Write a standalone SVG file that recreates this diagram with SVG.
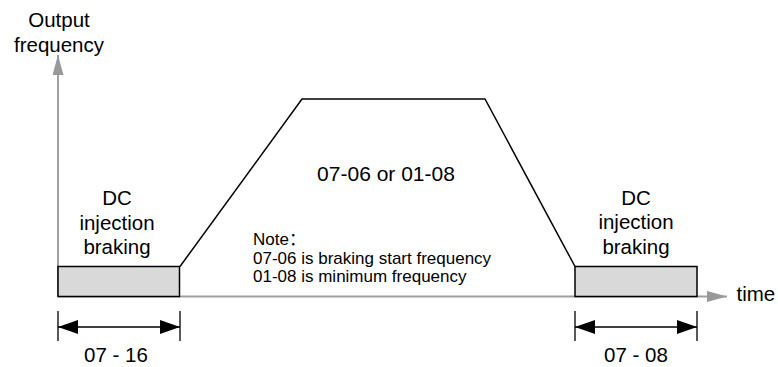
<svg xmlns="http://www.w3.org/2000/svg" width="778" height="367" viewBox="0 0 778 367">
<style>
text{font-family:"Liberation Sans",Arial,"Noto Sans CJK SC",sans-serif;fill:#000}
.big{font-size:20.5px;text-anchor:middle}
.note{font-size:17px}
.axis{stroke:#a0a0a0;stroke-width:2;fill:none}
.curve{stroke:#000;stroke-width:1.5;fill:none}
.box{fill:#d9d9d9;stroke:#000;stroke-width:1.5}
.dim{stroke:#000;stroke-width:1.5;fill:none}
.tick{stroke:#000;stroke-width:1.3}
</style>
<defs>
<marker id="ax" viewBox="0 0 20 11" refX="20" refY="5.5" markerWidth="20" markerHeight="11" markerUnits="userSpaceOnUse" orient="auto">
<path d="M0,0 L20,5.5 L0,11 Z" fill="#999"/>
</marker>
<marker id="dm" viewBox="0 0 20 14" refX="20" refY="7" markerWidth="20" markerHeight="14" markerUnits="userSpaceOnUse" orient="auto-start-reverse">
<path d="M0,0 L20,7 L0,14 Z" fill="#000"/>
</marker>
</defs>
<g id="axes">
<line class="axis" x1="58" y1="297" x2="58" y2="55" marker-end="url(#ax)"/>
<line class="axis" x1="58" y1="296.5" x2="727" y2="296.5" marker-end="url(#ax)"/>
<text class="big" x="59" y="27">Output</text>
<text class="big" x="59" y="51.5">frequency</text>
<text x="736.5" y="301" style="font-size:20.5px">time</text>
</g>
<g id="connectors">
<polyline class="curve" points="180,266.5 302,99 485,99 575,266.5"/>
</g>
<g id="dc-left">
<rect class="box" x="58" y="266.5" width="121.5" height="30"/>
<text class="big" x="117" y="205">DC</text>
<text class="big" x="117" y="229.5">injection</text>
<text class="big" x="117" y="254">braking</text>
</g>
<g id="dc-right">
<rect class="box" x="575" y="266.5" width="122" height="30"/>
<text class="big" x="636" y="204.5">DC</text>
<text class="big" x="636" y="229">injection</text>
<text class="big" x="636" y="253.5">braking</text>
</g>
<g id="label-center">
<text x="386" y="181" style="font-size:21px;text-anchor:middle">07-06 or 01-08</text>
</g>
<g id="note">
<text class="note" x="253" y="245">Note：</text>
<text class="note" x="253" y="263.5">07-06 is braking start frequency</text>
<text class="note" x="253" y="282">01-08 is minimum frequency</text>
</g>
<g id="dim-left">
<line class="tick" x1="58" y1="311" x2="58" y2="341"/>
<line class="tick" x1="180" y1="311" x2="180" y2="341"/>
<line class="dim" x1="58" y1="327" x2="180" y2="327" marker-start="url(#dm)" marker-end="url(#dm)"/>
<text class="big" x="116" y="362">07 - 16</text>
</g>
<g id="dim-right">
<line class="tick" x1="575" y1="311" x2="575" y2="341"/>
<line class="tick" x1="697" y1="311" x2="697" y2="341"/>
<line class="dim" x1="575" y1="327" x2="697" y2="327" marker-start="url(#dm)" marker-end="url(#dm)"/>
<text class="big" x="636" y="362">07 - 08</text>
</g>
</svg>
